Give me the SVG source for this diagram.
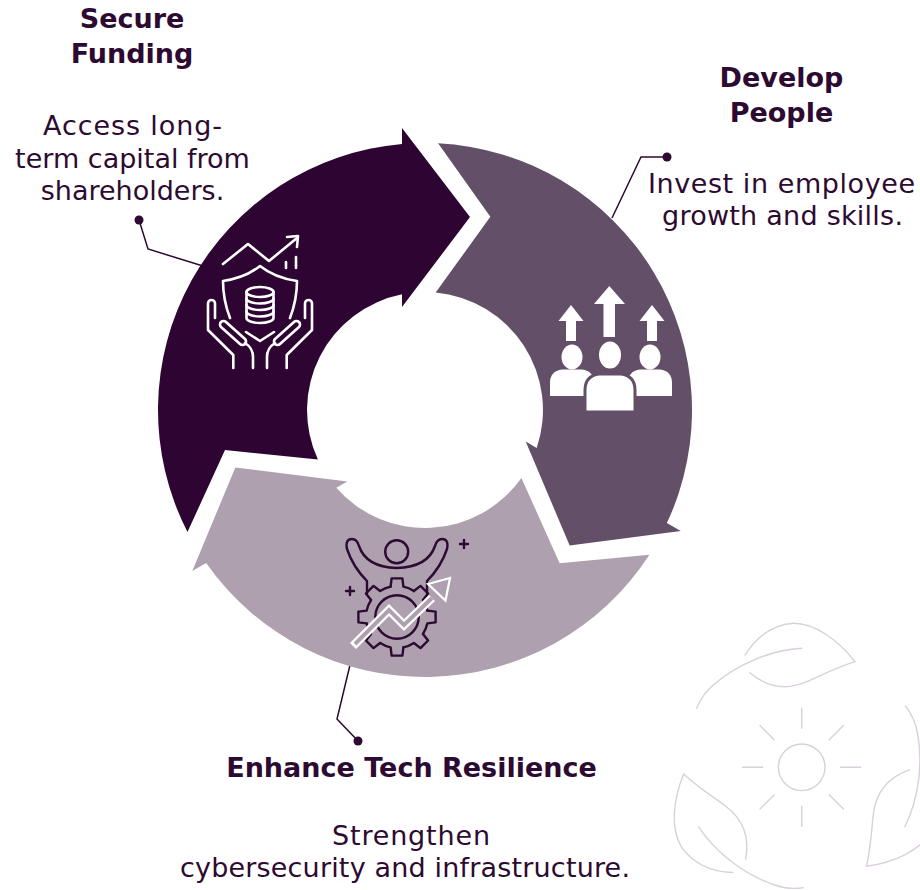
<svg xmlns="http://www.w3.org/2000/svg" xmlns:xlink="http://www.w3.org/1999/xlink" width="920" height="890" viewBox="0 0 920 890">
  <style>
    .title { font-family: "DejaVu Sans", "Liberation Sans", sans-serif; font-weight: bold; font-size: 27px; fill: #2D0A31; text-anchor: middle; }
    .body { font-family: "DejaVu Sans", "Liberation Sans", sans-serif; font-size: 27px; fill: #2D0A31; text-anchor: middle; }
    .wline { fill: none; stroke: #FFFFFF; stroke-width: 2.6; stroke-linecap: round; stroke-linejoin: round; }
    .dline { fill: none; stroke: #2D0A31; stroke-width: 2.4; stroke-linecap: round; stroke-linejoin: round; }
    .leaf { fill: none; stroke: #D9D0DB; stroke-width: 1.4; stroke-linecap: round; }
    .conn { fill: none; stroke: #2D0A31; stroke-width: 1.5; }
    .dot { fill: #2D0A31; }
  </style>
  <defs>
    <!-- one curved arrow of the cycle; the other two are rotations of it about the ring centre -->
    <path id="cycle-arrow" d="M187.5,532 A267,267 0 0 1 402,144 L402,128 L470,217 L402,307 L402,294.3 A118,118 0 0 0 317.9,459.5 L225,450 Z"/>
    <!-- one gear tooth plus the following stretch of rim -->
    <path id="gear-tooth" d="M427.3,610.6 L435.6,611.6 L435.6,622.4 L427.3,623.4 A31,31 0 0 1 423,633.9"/>
    <!-- one leaf with its stem -->
    <g id="leaf">
      <path d="M745,655 C757,636 773,625 793,623.3 C815,623 838,640 855,661.7"/>
      <path d="M855,661.7 C835,668 820,676 806.7,681.7 C790,689 770,690 750,672.7"/>
      <path d="M801.7,648.3 C770,650 736,665 713.3,685 C705,692 700,700 696.7,708.3"/>
    </g>
  </defs>

  <!-- decorative leaves and sun -->
  <g id="leaf-mark" class="leaf">
    <use xlink:href="#leaf"/>
    <use xlink:href="#leaf" transform="rotate(120 801.7 767.3)"/>
    <use xlink:href="#leaf" transform="rotate(240 801.7 767.3)"/>
    <circle cx="801.7" cy="767.3" r="23.3"/>
    <g transform="translate(801.7 767.3)">
      <path d="M0,-39 V-59 M0,39 V59 M39,0 H59 M-39,0 H-59 M27.6,-27.6 L41.7,-41.7 M-27.6,-27.6 L-41.7,-41.7 M27.6,27.6 L41.7,41.7 M-27.6,27.6 L-41.7,41.7"/>
    </g>
  </g>

  <!-- leader lines from the labels to the ring -->
  <g id="connectors">
    <polyline class="conn" points="139,220 148,249 203,266"/>
    <circle class="dot" cx="139" cy="220" r="4.5"/>
    <polyline class="conn" points="667,157 641,157 612,218"/>
    <circle class="dot" cx="667" cy="157" r="4.5"/>
    <polyline class="conn" points="358,741 337,719 350,665"/>
    <circle class="dot" cx="358" cy="741" r="4.5"/>
  </g>

  <!-- Secure Funding -->
  <g id="secure-funding">
    <use xlink:href="#cycle-arrow" fill="#2E0532"/>
    <g class="wline">
      <path d="M223,264 L248,244 L269,261 L297,238"/>
      <path d="M287,237 L298,236 L297,247"/>
      <path d="M286,262 V268 M296,257 V268"/>
      <path d="M230,318 C225,305 223,292 223,281 C237,279 250,274 260,266 C270,274 283,279 297,281 C297,292 295,305 290,318"/>
      <path d="M246,332 L260,341 L274,332"/>
      <ellipse cx="260" cy="292" rx="13.5" ry="5"/>
      <path d="M246.5,292 V318 A13.5,5 0 0 0 273.5,318 V292"/>
      <path d="M246.5,298.5 A13.5,5 0 0 0 273.5,298.5 M246.5,305 A13.5,5 0 0 0 273.5,305 M246.5,311.5 A13.5,5 0 0 0 273.5,311.5"/>
      <g id="hand-left">
        <path d="M215,318 V303.5 A3.5,3.5 0 0 0 208,303.5 V330 L233.3,355 V368"/>
        <path d="M221,327 L240,344 A3.5,3.5 0 0 0 245,339 L226,322 A3.5,3.5 0 0 0 221,327 Z"/>
        <path d="M245,343 Q253,348 253,357 V368"/>
      </g>
      <use xlink:href="#hand-left" transform="translate(520 0) scale(-1 1)"/>
    </g>
    <text class="title" x="132" y="28">Secure</text>
    <text class="title" x="132" y="63">Funding</text>
    <text class="body" x="132.5" y="135" textLength="179" lengthAdjust="spacing">Access long-</text>
    <text class="body" x="132.5" y="167.5">term capital from</text>
    <text class="body" x="132.5" y="200">shareholders.</text>
  </g>

  <!-- Develop People -->
  <g id="develop-people">
    <use xlink:href="#cycle-arrow" fill="#644F68" transform="rotate(120 425 410)"/>
    <g fill="#FFFFFF">
      <path d="M609.3,286 L625,304 L615,304 L615,337 L603.5,337 L603.5,304 L594,304 Z"/>
      <path d="M571,305 L583.5,321 L576,321 L576,341 L566,341 L566,321 L558.5,321 Z"/>
      <path d="M652,305 L664.5,321 L657,321 L657,341 L647,341 L647,321 L639.5,321 Z"/>
      <ellipse cx="572" cy="357" rx="10.5" ry="12.5"/>
      <path d="M550,396 V383 Q550,371 562,369.5 L582,369.5 Q594,371 594,383 V396 Z"/>
      <ellipse cx="650" cy="357" rx="10.5" ry="12.5"/>
      <path d="M628,396 V383 Q628,371 640,369.5 L660,369.5 Q672,371 672,383 V396 Z"/>
      <g stroke="#644F68" stroke-width="3">
        <ellipse cx="610" cy="355" rx="12.5" ry="15"/>
        <path d="M585,412 V390 Q585,376 599,374 L621,374 Q635,376 635,390 V412 Z"/>
      </g>
    </g>
    <text class="title" x="781.5" y="87">Develop</text>
    <text class="title" x="781.5" y="122">People</text>
    <text class="body" x="781.5" y="193" textLength="267" lengthAdjust="spacing">Invest in employee</text>
    <text class="body" x="782.5" y="225" textLength="241" lengthAdjust="spacing">growth and skills.</text>
  </g>

  <!-- Enhance Tech Resilience -->
  <g id="tech-resilience">
    <use xlink:href="#cycle-arrow" fill="#AEA0AF" transform="rotate(240 425 410)"/>
    <g class="dline">
      <circle cx="396.7" cy="551.7" r="11.5"/>
      <path d="M367,593 V581 Q353,567 347,549 Q345,539 352,539 Q357,539 359,546 Q366,567 396.7,568 Q428,567 435,546 Q437,539 442,539 Q449,539 447,549 Q441,567 427,581 V593"/>
      <circle cx="397" cy="617" r="21.7"/>
      <g id="gear">
        <use xlink:href="#gear-tooth"/>
        <use xlink:href="#gear-tooth" transform="rotate(45 397 617)"/>
        <use xlink:href="#gear-tooth" transform="rotate(90 397 617)"/>
        <use xlink:href="#gear-tooth" transform="rotate(135 397 617)"/>
        <use xlink:href="#gear-tooth" transform="rotate(180 397 617)"/>
        <use xlink:href="#gear-tooth" transform="rotate(225 397 617)"/>
        <use xlink:href="#gear-tooth" transform="rotate(270 397 617)"/>
        <use xlink:href="#gear-tooth" transform="rotate(315 397 617)"/>
      </g>
      <path d="M464,540 V548 M460,544 H468 M350,587 V595 M346,591 H354"/>
    </g>
    <!-- outlined rising arrow -->
    <polyline points="353,646 389,610 404,625 432,598" fill="none" stroke="#FFFFFF" stroke-width="8.5" stroke-linejoin="miter"/>
    <polyline points="355,644 389,610 404,625 432,598" fill="none" stroke="#AEA0AF" stroke-width="4" stroke-linejoin="miter"/>
    <polygon points="450,578 445.5,600.5 428,584" fill="#AEA0AF" stroke="#FFFFFF" stroke-width="2.2" stroke-linejoin="miter"/>
    <text class="title" x="411.5" y="777">Enhance Tech Resilience</text>
    <text class="body" x="411" y="845" textLength="158" lengthAdjust="spacing">Strengthen</text>
    <text class="body" x="405" y="877" textLength="450" lengthAdjust="spacing">cybersecurity and infrastructure.</text>
  </g>
</svg>
